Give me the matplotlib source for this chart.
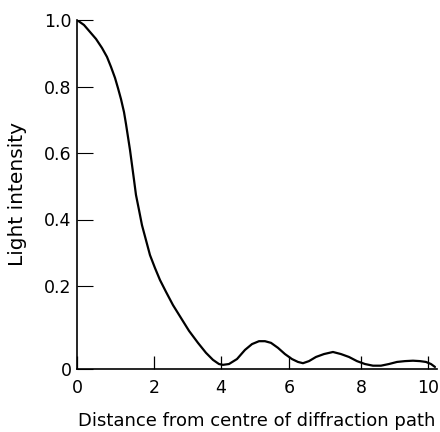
import numpy as np
import matplotlib
matplotlib.use("Agg")
from matplotlib import pyplot as plt

# points (distance, intensity)
dist = [0.0, 0.182, 0.338, 0.494, 0.649, 0.779, 0.883, 0.987, 1.065, 1.143,
        1.221, 1.273, 1.325, 1.377, 1.429, 1.481, 1.532, 1.610, 1.688, 1.792,
        1.896, 2.030, 2.179, 2.358, 2.567, 2.806, 3.045, 3.313, 3.552, 3.761,
        3.940, 4.059, 4.235, 4.471, 4.706, 4.912, 5.118, 5.294, 5.471, 5.676,
        5.882, 6.083, 6.250, 6.389, 6.556, 6.750, 6.972, 7.222, 7.444, 7.667,
        7.889, 8.119, 8.358, 8.597, 8.836, 9.075, 9.313, 9.552, 9.761, 9.940,
        10.090, 10.209]
intensity = [1.0, 0.985, 0.964, 0.943, 0.916, 0.889, 0.859, 0.826, 0.795, 0.762,
             0.723, 0.687, 0.648, 0.609, 0.564, 0.519, 0.474, 0.429, 0.383, 0.338,
             0.293, 0.254, 0.218, 0.186, 0.154, 0.123, 0.092, 0.063, 0.039, 0.022,
             0.012, 0.010, 0.012, 0.024, 0.046, 0.060, 0.067, 0.067, 0.063, 0.051,
             0.036, 0.024, 0.017, 0.014, 0.019, 0.029, 0.036, 0.041, 0.036, 0.029,
             0.019, 0.012, 0.008, 0.008, 0.012, 0.017, 0.019, 0.020, 0.019, 0.017,
             0.012, 0.005]

xticks = [0, 2, 4, 6, 8, 10]
yticks = [0, 0.2, 0.4, 0.6, 0.8, 1.0]
ytick_labels = ["0", "0.2", "0.4", "0.6", "0.8", "1.0"]

# the drawn axes are not quite evenly spaced, so map ticks onto where they sit
x_knots = [0, 2, 4, 6, 8, 10]
x_pos = [0, 77, 144, 212, 284, 351]
y_knots = [0, 0.2, 1.0]
y_pos = [0, 83, 349]


def pw(v, a, b):
    v = np.asarray(v, dtype=float)
    s0 = (b[1] - b[0]) / (a[1] - a[0])
    s1 = (b[-1] - b[-2]) / (a[-1] - a[-2])
    return np.where(v < a[0], b[0] + (v - a[0]) * s0,
                    np.where(v > a[-1], b[-1] + (v - a[-1]) * s1, np.interp(v, a, b)))


plt.rcParams['font.family'] = ['DejaVu Sans']

fig = plt.figure(figsize=(4.4, 4.32), dpi=100)
ax = fig.add_axes([77 / 440, (432 - 369) / 432, (437 - 77) / 440, 349 / 432])

ax.set_xscale('function', functions=(lambda v: pw(v, x_knots, x_pos), lambda v: pw(v, x_pos, x_knots)))
ax.set_yscale('function', functions=(lambda v: pw(v, y_knots, y_pos), lambda v: pw(v, y_pos, y_knots)))

ax.plot(dist, intensity, color='black', lw=1.6, solid_capstyle='round', solid_joinstyle='round')

ax.set_xlim(0, 10.27)
ax.set_ylim(0, 1.0)
ax.set_xticks(xticks)
ax.set_yticks(yticks)
ax.set_yticklabels(ytick_labels)
ax.minorticks_off()

for s in ['top', 'right']:
    ax.spines[s].set_visible(False)
for s in ['left', 'bottom']:
    ax.spines[s].set_linewidth(1.2)

ax.tick_params(axis='x', direction='in', length=9.5, width=0.9, pad=7.5, labelsize=12.5)
ax.tick_params(axis='y', direction='in', length=11.5, width=0.8, pad=4, labelsize=12.5)

ax.set_xlabel("Distance from centre of diffraction path", fontsize=13, labelpad=10.5)
ax.set_ylabel("Light intensity", fontsize=14.5, labelpad=12)

fig.savefig("out.png", dpi=100)
